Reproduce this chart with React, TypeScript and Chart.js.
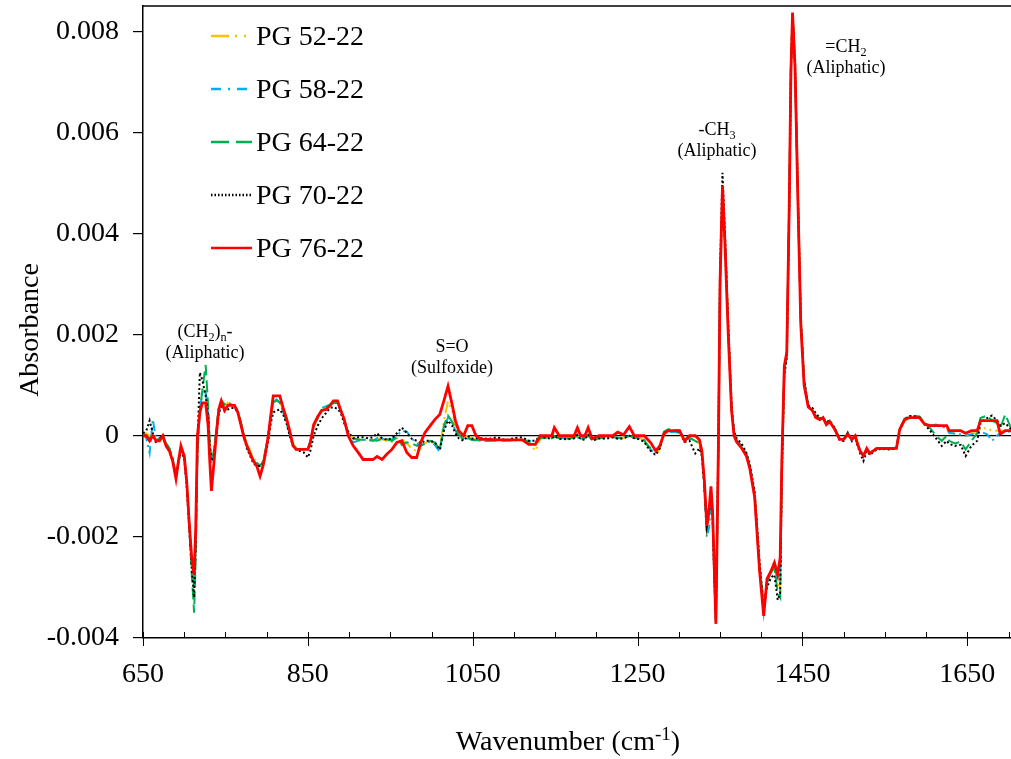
import React, { useEffect, useRef } from "react";
import { Chart, registerables } from "chart.js";

Chart.register(...registerables);

const FONT = '"Liberation Serif", "Times New Roman", serif';

// Absorbance values below are given in units of 1e-4
const UNIT = 1e-4;

const wavenumbers = [
  650, 654, 658, 662, 666, 670, 674, 678, 682, 686,
  690, 693, 696, 700, 703, 706, 709, 712, 714, 716,
  719, 722, 726, 729, 731, 733, 736, 739, 742, 745,
  749, 753, 757, 761, 765, 769, 772, 776, 780, 784,
  788, 792, 796, 799, 802, 805, 808, 812, 816, 820,
  824, 828, 832, 836, 840, 845, 850, 853, 857, 862,
  867, 872, 877, 881, 886, 890, 894, 899, 905, 911,
  917, 923, 929, 934, 940, 946, 952, 958, 964, 970,
  976, 982, 987, 992, 998, 1004, 1010, 1015, 1020, 1025,
  1029, 1033, 1039, 1044, 1049, 1054, 1060, 1070, 1080, 1090,
  1100, 1110, 1118, 1126, 1132, 1140, 1146, 1149, 1155, 1165,
  1173, 1177, 1181, 1186, 1190, 1195, 1203, 1212, 1220, 1226,
  1233, 1240, 1246, 1252, 1258, 1262, 1266, 1272, 1277, 1282,
  1287, 1294, 1301, 1307, 1313, 1320, 1325, 1328, 1331, 1334,
  1337, 1339, 1341, 1343, 1345, 1348, 1350, 1353, 1356, 1360,
  1364, 1367, 1370, 1376, 1382, 1386, 1392, 1398, 1403, 1407,
  1412, 1416, 1420, 1423, 1425, 1428, 1431, 1434, 1436, 1438,
  1441, 1444, 1448, 1452, 1457, 1462, 1466, 1471, 1475, 1479,
  1483, 1489, 1495, 1500, 1505, 1510, 1514, 1517, 1520, 1524,
  1528, 1532, 1536, 1540, 1548, 1556, 1564, 1568, 1574, 1580,
  1586, 1592, 1598, 1605, 1612, 1619, 1625, 1628, 1635, 1642,
  1648, 1655, 1662, 1666, 1674, 1680, 1686, 1690, 1696, 1703,
];

const pg52 = [
  0, 0.5, 0, -0.5, -1, -0.5, 0, -1.5, -2.5, -4.5,
  -8, -5.5, -2.5, -4, -9, -17, -25, -29, -20, -3,
  5, 8.5, 9, 5, -2, -5, -3, 1, 5.5, 6.9,
  6, 6.5, 6.2, 6, 5, 2.5, 0.5, -1.5, -3, -4.5,
  -5, -6, -5, -2.5, 0, 3.5, 6.5, 7, 6.6, 5,
  3, 0.5, -1.5, -2.5, -2.7, -2.7, -2.5, -1, 1.5, 3.3,
  5, 5.5, 6, 6.5, 6.5, 5, 3.3, 0.5, -0.5, -0.7,
  -0.7, -1, -0.8, -0.5, -0.7, -1, -1.2, -0.5, -0.8, -1.5,
  -2.5, -3, -2.5, -1.5, -1, -1.5, -2.5, 3, 6.8, 5,
  2, 0.5, -0.5, 0, -0.5, -0.8, -0.8, -1, -0.8, -1,
  -1, -0.8, -1.2, -3, -0.5, -0.5, -0.5, -0.2, -0.5, -0.5,
  -0.4, 0, -0.5, -0.3, 0.3, -0.6, -0.3, -0.3, -0.2, -0.5,
  -0.5, 0, -0.5, -0.3, -1, -2, -3, -4, -2.5, 0.2,
  0.8, 0.8, 0.5, -1, -0.5, -1, -1.5, -4, -10, -19,
  -17, -12, -16, -27, -37, -4, 29, 48, 39, 21,
  5.5, 0.5, -1, -2.2, -4, -6, -12, -26, -35, -29,
  -27, -26, -29, -30, -6, 13, 16, 46, 73, 83.5,
  73, 51, 23, 11, 6, 5, 4, 3.5, 3.5, 2.5,
  2.8, 1.5, -0.5, -0.5, 0.3, -0.5, 0, -1.5, -3, -3.8,
  -2.7, -3.3, -3, -2.5, -2.7, -2.5, -2.5, 1, 3, 3.6,
  3.8, 3.6, 2.5, 2, 2, 2, 1.5, 0.5, 0.5, 0.3,
  0, 0.5, 0.5, 1.5, 1.5, 1, 1, 1, 1, 1,
];

const pg58 = [
  0.5, -0.5, -3.4, 3.2, -1, -0.5, 0, -1.5, -2.5, -4.5,
  -8, -5.5, -2.5, -4, -9, -17, -24.5, -30, -21, -4,
  5, 8.8, 8.5, 4.5, -2, -5.5, -3.5, 1, 5.8, 6.8,
  6.2, 6.5, 6, 5.8, 4.8, 2.5, 0.3, -1.8, -3.5, -5,
  -5.5, -6, -5.2, -2.7, 0, 3.8, 6.6, 7.2, 6.5, 4.8,
  2.8, 0.3, -1.8, -2.6, -2.7, -2.7, -2.8, -1.2, 1.8, 3.6,
  5.5, 5.8, 6.2, 6.7, 6.3, 4.8, 3, 0.2, -1.3, -1,
  -0.8, -0.7, -1, -0.5, -0.6, -0.9, -0.7, 0, 1, 0.8,
  -0.5, -1.5, -2, -1.5, -1.2, -1.8, -3.2, 1.5, 3.6, 2.5,
  1, 0, -0.8, -0.5, -0.8, -1, -1, -1, -0.7, -1,
  -0.8, -0.9, -1, -1.2, -0.5, -0.3, -0.5, -0.3, -0.5, -0.4,
  -0.5, -0.3, -0.6, -0.3, 0, -0.7, -0.4, -0.3, -0.3, -0.4,
  -0.5, 0, -0.3, -0.5, -0.8, -1.8, -2.8, -3.3, -2, 0.3,
  0.7, 0.8, 0.6, -0.8, -0.6, -0.8, -1.5, -3.5, -11, -20,
  -18, -12, -15, -27, -36.5, -3.5, 29, 48, 38.5, 20.5,
  5.5, 0.5, -1, -2, -3.8, -6, -12, -26.5, -35, -29,
  -27, -26, -28.5, -28, -5.5, 13, 16, 45.5, 72, 83.5,
  73, 50.5, 22.5, 10.5, 6, 5, 4, 3.3, 3.4, 2.3,
  2.7, 1.4, -0.6, -0.8, 0.2, -0.8, -0.2, -1.8, -3.2, -3.8,
  -3, -3.3, -3, -2.6, -2.6, -2.6, -2.3, 1.2, 3.2, 3.8,
  3.8, 3.7, 2.4, 2, 2.2, 1.8, 1.5, 0.6, 0.4, 0.2,
  0, 0.3, 0.5, 0.8, 0.3, -1, 0, 0.5, 0.8, 0.8,
];

const pg64 = [
  0.5, 0, -0.5, 0, -1, -0.5, 0, -1.5, -2.5, -4.5,
  -8, -5.5, -2.5, -4, -9, -18, -27, -35, -24, -3,
  5, 9, 14, 6, -1, -5, -3, 1, 5.6, 7,
  6.2, 6.6, 6.2, 6, 5, 2.5, 0.3, -1.8, -3.4, -4.8,
  -5.3, -6, -5, -2.5, 0, 3.8, 6.6, 7, 6.6, 4.8,
  2.8, 0.3, -1.8, -2.6, -2.7, -2.7, -2.6, -1, 1.8, 3.5,
  5.3, 5.8, 6, 6.5, 6.5, 5, 3.2, 0.5, -0.5, -0.8,
  -0.8, -0.9, -0.9, -1, -0.6, -0.7, -1, -0.3, -1.8, -1.3,
  -1.5, -2, -2, -1.5, -1, -1.3, -2.8, 2, 4, 2.8,
  1.2, 0.3, -0.7, -0.3, -0.8, -0.9, -0.8, -1, -1, -0.9,
  -0.9, -0.8, -1.2, -1.3, -0.5, -0.4, -0.5, -0.1, -0.5, -0.6,
  -0.4, 0, -0.6, -0.5, 0.2, -1, -0.5, -0.3, -0.2, -0.4,
  -0.6, 0, -0.4, -0.5, -0.9, -1.8, -2.5, -3, -2.2, 0.8,
  1.3, 1.2, 1, -0.8, -0.4, -1, -1.6, -3.5, -9, -18,
  -15, -10.5, -15.5, -27, -37, -4, 30, 49, 39, 21,
  5.5, 0.6, -0.8, -2, -3.6, -5.8, -11.5, -26, -33, -29,
  -27, -26, -31, -32, -7, 12.5, 16, 46, 72.5, 83.5,
  73.5, 51, 23, 11, 6, 5, 4, 3.4, 3.5, 2.5,
  3, 1.5, -0.5, -0.6, 0.5, -0.6, 0, -1.8, -3, -3.9,
  -2.6, -3.4, -3, -2.5, -2.5, -2.6, -2.4, 1.4, 3.4, 3.8,
  3.9, 3.8, 2.5, 1.5, 0, -1, 0, -1, -1.5, -1.2,
  -2.7, -1, 0.5, 3.5, 4, 3, 2.5, 1.5, 4.2, 1.5,
];

const pg70 = [
  0.5, 1, 3, 0.5, -1.5, -0.5, 0, -2, -3, -5,
  -8, -5, -3, -4.5, -10, -18, -26, -32, -21, -2,
  12.5, 11, 8, 4, -2, -5, -4, 0, 4.5, 5.8,
  5, 5.2, 5.5, 5.5, 4.6, 2, 0, -2.5, -4, -5.5,
  -6, -6, -5.5, -3.5, -1, 2.5, 4.6, 5, 5.2, 4.2,
  2.5, 0, -2, -2.8, -3, -3.3, -4.3, -3, 0, 2,
  3.5, 4.5, 5.5, 5.7, 5.3, 4.5, 2.5, 0.8, -0.5, -0.3,
  -0.3, -0.5, -0.3, 0.5, -0.5, -0.8, -0.5, 0.5, 1.6, 0.6,
  -0.6, -1, -1.5, -1, -1, -1.3, -2.8, 1, 3, 2,
  0.5, -0.5, -1, 0, -0.6, -0.5, -0.5, -0.6, -0.3, -0.9,
  -0.5, -0.3, -1, -1, 0, -0.5, -0.5, 0, -0.6, -0.7,
  -0.5, 0.2, -0.7, -0.8, 0.3, -0.9, -0.5, -0.6, -0.3, -0.6,
  -0.5, 0, -0.5, -0.7, -1.2, -2.2, -3, -3.8, -2.5, 0.5,
  1, 1, 0.8, -1.2, -1, -3.5, -2.5, -4, -10, -18,
  -15, -11, -16, -28, -36, -1, 32, 52, 40, 22,
  6, 1, -0.5, -1.5, -3.4, -5.5, -11, -25, -34, -30,
  -28, -27.5, -32.5, -31, -8, 12, 15.5, 45, 72, 83,
  73, 51, 23, 11, 6, 5.5, 4.5, 3.5, 3.5, 2.7,
  3, 1.6, -0.8, -1, 0.6, -1, 0.2, -2, -3.5, -5,
  -3, -3.8, -3.2, -2.7, -2.6, -2.7, -2.5, 1, 3.2, 3.9,
  3.8, 3.6, 2.3, 1, -0.5, -2, -1, -1.6, -2, -1.8,
  -4, -2, -1, 2.5, 3.5, 4, 3, 2, 2.5, 1.3,
];

const pg76 = [
  0, 0, -1, 0, -1, -1, 0, -2, -3, -5,
  -8.5, -5, -2, -4, -9, -17, -24, -27.5, -18, 0,
  4.6, 6.5, 6.5, 2, -5, -10.9, -5.5, 0.5, 5.2, 6.9,
  5, 6, 6, 6, 4.6, 2, 0, -2, -3.6, -5,
  -6, -8, -5.7, -3, 0, 4, 7.9, 7.9, 7.9, 5.5,
  3.5, 1, -2, -2.7, -2.7, -2.7, -2.7, -1.4, 2.2, 3.8,
  5, 5.2, 6, 6.9, 6.9, 5, 3.3, 0, -2, -3.3,
  -4.7, -4.7, -4.7, -4.1, -4.7, -3.6, -2.7, -1.3, -1, -3.3,
  -4.3, -4.3, -1.3, 0.6, 1.9, 3.2, 4.2, 6.9, 9.8, 6.2,
  3, 1, 0, 2, 2, 0, -0.7, -0.7, -0.8, -0.8,
  -0.8, -0.8, -1.7, -1.7, 0, 0, 0, 1.6, 0, 0,
  0, 1.6, 0, 0, 1.6, -0.6, 0, 0, 0, 0.7,
  0.2, 1.8, 0, 0, 0, -0.7, -1.4, -3, -2, 0.4,
  1, 1, 1, -1, 0, 0, -0.8, -3, -8.9, -17.8,
  -14.1, -10, -15, -26, -37.2, -2.4, 30, 49.5, 38, 20,
  5, 0, -1.2, -2.4, -4, -6.4, -12.1, -26.7, -35.6, -28.3,
  -26.7, -25.1, -27.5, -24, -5, 13.8, 16.5, 46, 72, 83.7,
  73, 50, 22, 10, 5.7, 5, 3.6, 3.2, 3.6, 2.2,
  2.8, 1.3, -0.7, -0.7, 0.3, -0.7, 0, -1.7, -3, -4,
  -2.5, -3.5, -3, -2.5, -2.5, -2.5, -2.5, 1.3, 3.2, 3.6,
  3.6, 3.6, 2.3, 2, 2, 2, 2, 1, 1, 1,
  0.5, 1, 1, 3, 3, 3, 3, 0.3, 1, 1,
];

const seriesNames = ["PG 52-22", "PG 58-22", "PG 64-22", "PG 70-22", "PG 76-22"];
const seriesValues = [pg52, pg58, pg64, pg70, pg76];
const seriesColors = ["#FFC000", "#00B0F0", "#00B050", "#000000", "#FF0000"];
const seriesDashes: number[][] = [[12, 4, 2, 4, 2, 4], [9, 4, 2, 4], [12, 5], [2, 2.5], []];
const legendDashes: number[][] = [[18, 6, 2, 7, 2, 7], [10, 7, 2, 7, 10, 7], [18, 7], [1.5, 2], []];
const seriesWidths = [2, 2, 2, 2, 2.8];
const seriesOrder = [4, 3, 2, 1, 0];

const xMajorTicks = [650, 850, 1050, 1250, 1450, 1650];
const xMinorTicks = [700, 750, 800, 900, 950, 1000, 1100, 1150, 1200, 1300, 1350, 1400, 1500, 1550, 1600, 1700];
const yTicks = [-0.004, -0.002, 0, 0.002, 0.004, 0.006, 0.008];

type Seg = { t: string; s?: "sub" | "sup" };

const annotations: { x: number; y: number; lines: Seg[][] }[] = [
  { x: 205, y: 332, lines: [[{ t: "(CH" }, { t: "2", s: "sub" }, { t: ")" }, { t: "n", s: "sub" }, { t: "-" }], [{ t: "(Aliphatic)" }]] },
  { x: 452, y: 347, lines: [[{ t: "S=O" }], [{ t: "(Sulfoxide)" }]] },
  { x: 717, y: 130, lines: [[{ t: "-CH" }, { t: "3", s: "sub" }], [{ t: "(Aliphatic)" }]] },
  { x: 846, y: 47, lines: [[{ t: "=CH" }, { t: "2", s: "sub" }], [{ t: "(Aliphatic)" }]] },
];

function drawRich(ctx: CanvasRenderingContext2D, segs: Seg[], cx: number, cy: number, size: number) {
  const small = size * 0.68;
  let w = 0;
  for (const sg of segs) {
    ctx.font = `${sg.s ? small : size}px ${FONT}`;
    w += ctx.measureText(sg.t).width;
  }
  let x = cx - w / 2;
  ctx.textAlign = "left";
  ctx.textBaseline = "alphabetic";
  const base = cy + size * 0.3;
  for (const sg of segs) {
    ctx.font = `${sg.s ? small : size}px ${FONT}`;
    const dy = sg.s === "sub" ? size * 0.2 : sg.s === "sup" ? -size * 0.38 : 0;
    ctx.fillText(sg.t, x, base + dy);
    x += ctx.measureText(sg.t).width;
  }
}

const decor = {
  id: "decor",
  afterDraw(chart: any) {
    const { ctx, chartArea: ca, scales } = chart;
    const xs = scales.x;
    ctx.save();
    ctx.strokeStyle = "#000";
    ctx.fillStyle = "#000";
    // top frame
    ctx.lineWidth = 1.5;
    ctx.beginPath();
    ctx.moveTo(ca.left, ca.top);
    ctx.lineTo(ca.right, ca.top);
    ctx.stroke();
    // x tick marks
    ctx.lineWidth = 1;
    const yb = ca.bottom;
    for (const v of xMajorTicks) {
      const px = Math.round(xs.getPixelForValue(v)) + 0.5;
      ctx.beginPath();
      ctx.moveTo(px, yb - 6);
      ctx.lineTo(px, yb + 8);
      ctx.stroke();
    }
    for (const v of xMinorTicks) {
      const px = Math.round(xs.getPixelForValue(v)) + 0.5;
      ctx.beginPath();
      ctx.moveTo(px, yb - 6);
      ctx.lineTo(px, yb);
      ctx.stroke();
    }
    // legend
    const legendY = [37, 90, 143, 196, 249];
    for (let i = 0; i < seriesNames.length; i++) {
      const ly = legendY[i];
      ctx.save();
      ctx.strokeStyle = seriesColors[i];
      ctx.lineWidth = 2.5;
      ctx.setLineDash(legendDashes[i]);
      ctx.beginPath();
      ctx.moveTo(211, ly - 1);
      ctx.lineTo(252, ly - 1);
      ctx.stroke();
      ctx.restore();
      ctx.font = `28px ${FONT}`;
      ctx.textAlign = "left";
      ctx.textBaseline = "middle";
      ctx.fillStyle = "#000";
      ctx.fillText(seriesNames[i], 256, ly + 1);
    }
    // annotations
    for (const a of annotations) {
      a.lines.forEach((ln, k) => drawRich(ctx, ln, a.x, a.y + k * 20.5, 18));
    }
    // axis titles
    drawRich(ctx, [{ t: "Wavenumber (cm" }, { t: "-1", s: "sup" }, { t: ")" }], 568, 742, 28);
    ctx.save();
    ctx.translate(30, 330);
    ctx.rotate(-Math.PI / 2);
    drawRich(ctx, [{ t: "Absorbance" }], 0, 0, 28);
    ctx.restore();
    ctx.restore();
  },
};

export default function App() {
  const ref = useRef<HTMLCanvasElement>(null);
  useEffect(() => {
    const canvas = ref.current;
    if (!canvas) return;
    const datasets = seriesNames.map((name, i) => ({
      label: name,
      data: wavenumbers.map((x, j) => ({ x, y: seriesValues[i][j] * UNIT })),
      borderColor: seriesColors[i],
      backgroundColor: seriesColors[i],
      borderWidth: seriesWidths[i],
      borderDash: seriesDashes[i],
      order: seriesOrder[i],
      pointRadius: 0,
      fill: false,
    }));
    const chart = new Chart(canvas, {
      type: "line",
      data: { datasets },
      options: {
        animation: false,
        responsive: false,
        devicePixelRatio: 1,
        layout: { padding: { top: 6, left: 0, right: 0, bottom: 0 } },
        plugins: { legend: { display: false }, tooltip: { enabled: false } },
        elements: { point: { radius: 0 }, line: { tension: 0 } },
        scales: {
          x: {
            type: "linear",
            min: 650,
            max: 1703,
            afterBuildTicks: (s: any) => {
              s.ticks = xMajorTicks.map((v) => ({ value: v }));
            },
            afterFit: (s: any) => {
              s.height = 121;
              s.paddingLeft = 0;
              s.paddingRight = 0;
            },
            ticks: {
              font: { family: FONT, size: 28 },
              color: "#000",
              padding: 20,
              maxRotation: 0,
              autoSkip: false,
              callback: (v: any) => String(v),
            },
            grid: { display: true, drawOnChartArea: false, drawTicks: false, color: "#000" },
            border: { display: true, color: "#000", width: 1.5 },
          },
          y: {
            type: "linear",
            min: -0.004,
            max: 0.0085,
            afterBuildTicks: (s: any) => {
              s.ticks = yTicks.map((v) => ({ value: v }));
            },
            afterFit: (s: any) => {
              s.width = 143;
              s.paddingTop = 0;
              s.paddingBottom = 0;
            },
            ticks: {
              font: { family: FONT, size: 28 },
              color: "#000",
              padding: 14,
              callback: (v: any) => (Math.abs(Number(v)) < 1e-9 ? "0" : Number(v).toFixed(3)),
            },
            grid: {
              drawOnChartArea: true,
              color: (c: any) => (c.tick && Math.abs(c.tick.value) < 1e-9 ? "#000" : "rgba(0,0,0,0)"),
              tickColor: "#000",
              tickLength: 10,
              lineWidth: 1.2,
            },
            border: { display: true, color: "#000", width: 1.5 },
          },
        },
      },
      plugins: [decor],
    } as any);
    return () => chart.destroy();
  }, []);
  return (
    <div style={{ position: "absolute", left: 0, top: 0, width: 1011, height: 759, background: "#fff" }}>
      <canvas ref={ref} width={1011} height={759} style={{ display: "block" }} />
    </div>
  );
}
